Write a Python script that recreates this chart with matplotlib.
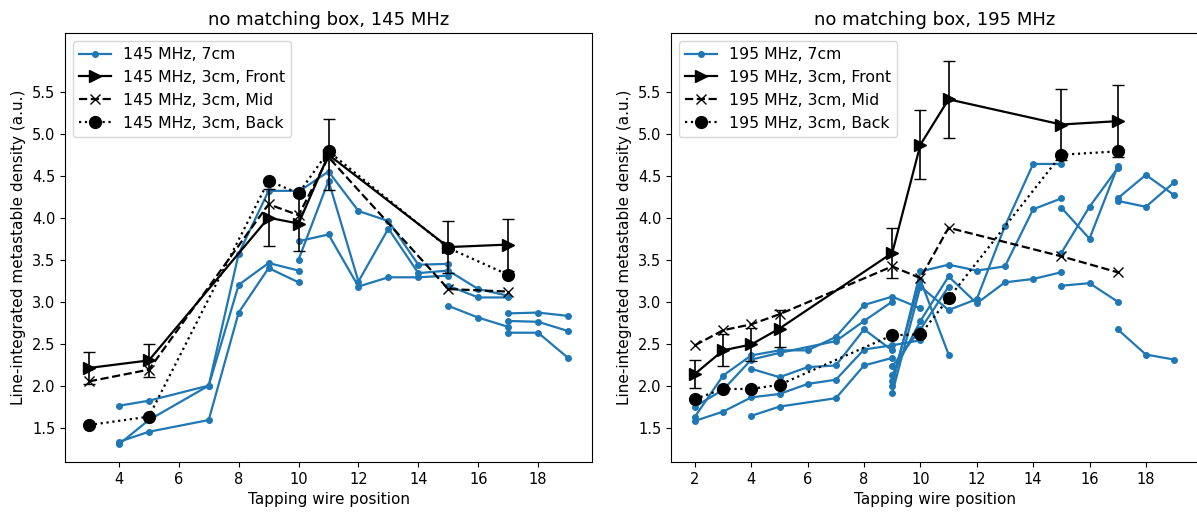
import numpy as np
import matplotlib
matplotlib.use("Agg")
from matplotlib import pyplot as plt

# 145 MHz, 7cm : separate scans, each a list of x / y
x145_7cm = [[4, 5, 7, 8, 9, 10], [4, 5, 7, 8, 9, 10], [4, 5, 7, 8, 9, 10],
            [10, 11, 12, 13, 14, 15], [10, 11, 12, 13, 14, 15], [10, 11, 12, 13, 14, 15],
            [15, 16, 17], [15, 16, 17], [15, 16, 17],
            [17, 18, 19], [17, 18, 19], [17, 18, 19]]
y145_7cm = [[1.76, 1.82, 2.0, 3.57, 4.32, 4.32], [1.30, 1.59, 2.0, 3.2, 3.46, 3.37],
            [1.33, 1.45, 1.59, 2.87, 3.40, 3.23],
            [4.31, 4.55, 4.08, 3.96, 3.44, 3.45], [3.50, 4.44, 3.24, 3.87, 3.34, 3.37],
            [3.72, 3.80, 3.18, 3.29, 3.29, 3.31],
            [3.37, 3.15, 3.07], [3.19, 3.05, 3.05], [2.95, 2.81, 2.70],
            [2.86, 2.87, 2.83], [2.77, 2.76, 2.65], [2.63, 2.63, 2.33]]

x145_3cm = [3, 5, 9, 10, 11, 15, 17]
front145 = [2.21, 2.30, 4.0, 3.93, 4.75, 3.65, 3.68]
front145_err = [0.19, 0.2, 0.34, 0.33, 0.42, 0.31, 0.31]
mid145 = [2.05, 2.19, 4.16, 4.03, 4.72, 3.15, 3.12]
back145 = [1.53, 1.63, 4.44, 4.29, 4.79, 3.64, 3.32]

# 195 MHz, 7cm
x195_7cm = [[2, 3, 4, 5, 6, 7, 8, 9, 10], [2, 3, 4, 5, 7, 8, 9], [2, 3, 4, 5, 6, 7, 8, 9, 10],
            [4, 5, 6, 7, 8, 9], [4, 5, 7, 8, 9],
            [9, 10, 11, 12, 13, 14, 15], [9, 10, 11, 12, 13, 14, 15], [9, 10, 11, 12, 13, 14, 15],
            [9, 10, 11], [9, 10, 11],
            [15, 16, 17], [15, 16, 17], [15, 16, 17],
            [17, 18, 19], [17, 18, 19], [17, 18, 19]]
y195_7cm = [[1.63, 2.12, 2.36, 2.42, 2.42, 2.58, 2.96, 3.06, 2.92],
            [1.75, 1.95, 2.31, 2.39, 2.53, 2.77, 3.0],
            [1.58, 1.69, 1.86, 1.90, 2.02, 2.07, 2.43, 2.48, 2.54],
            [2.2, 2.1, 2.22, 2.24, 2.67, 2.42],
            [1.64, 1.75, 1.85, 2.24, 2.33],
            [2.0, 3.36, 3.44, 3.37, 3.42, 4.1, 4.23],
            [1.91, 3.18, 2.9, 3.03, 3.9, 4.64, 4.64],
            [2.13, 2.77, 3.3, 2.98, 3.23, 3.27, 3.35],
            [2.23, 2.67, 3.18], [2.06, 3.26, 2.37],
            [4.12, 3.75, 4.61], [3.58, 4.13, 4.59], [3.19, 3.22, 3.0],
            [4.23, 4.51, 4.27], [4.2, 4.13, 4.42], [2.67, 2.37, 2.31]]

x195_3cm = [2, 3, 4, 5, 9, 10, 11, 15, 17]
front195 = [2.14, 2.42, 2.49, 2.68, 3.58, 4.87, 5.41, 5.11, 5.15]
front195_err = [0.17, 0.19, 0.2, 0.22, 0.3, 0.41, 0.46, 0.42, 0.43]
mid195 = [2.48, 2.66, 2.73, 2.85, 3.42, 3.28, 3.88, 3.54, 3.35]
back195 = [1.84, 1.96, 1.96, 2.01, 2.6, 2.61, 3.04, 4.75, 4.79]

panels = [("145", x145_7cm, y145_7cm, x145_3cm, front145, front145_err, mid145, back145),
          ("195", x195_7cm, y195_7cm, x195_3cm, front195, front195_err, mid195, back195)]

fig = plt.figure(figsize=(11.97, 5.14), dpi=100)
W, H = 1197., 514.
boxes = [[65 / W, 52 / H, 527 / W, 429 / H], [671 / W, 52 / H, 527 / W, 429 / H]]

for box, (f, xs, ys, x3, fr, fre, mi, ba) in zip(boxes, panels):
    ax = fig.add_axes(box)
    for i in range(len(xs)):
        ax.plot(xs[i], ys[i], '.-', color='#1f77b4', ms=8, lw=1.6,
                label=f + ' MHz, 7cm' if i == 0 else None)
    ax.plot(x3, fr, 'k>-', ms=8.5, lw=1.6, label=f + ' MHz, 3cm, Front')
    ax.errorbar(x3, fr, yerr=fre, fmt='none', ecolor='k', elinewidth=1.2, capsize=4)
    ax.plot(x3, mi, 'kx--', ms=7, lw=1.6, label=f + ' MHz, 3cm, Mid')
    ax.plot(x3, ba, 'ko:', ms=8.5, lw=1.6, label=f + ' MHz, 3cm, Back')
    ax.set_title('no matching box, ' + f + ' MHz', fontsize=13)
    ax.set_xlabel('Tapping wire position', fontsize=11)
    ax.set_ylabel('Line-integrated metastable density (a.u.)', fontsize=11)
    ax.set_yticks(np.arange(1.5, 5.6, 0.5))
    ax.set_ylim(1.09, 6.2)
    ax.tick_params(labelsize=10.5)
    ax.legend(loc='upper left', fontsize=11.3)

fig.axes[0].set_xlim(2.2, 19.8)
fig.axes[0].set_xticks(np.arange(4, 19, 2))
fig.axes[1].set_xlim(1.15, 19.85)
fig.axes[1].set_xticks(np.arange(2, 19, 2))

plt.savefig('out.png', dpi=100)
